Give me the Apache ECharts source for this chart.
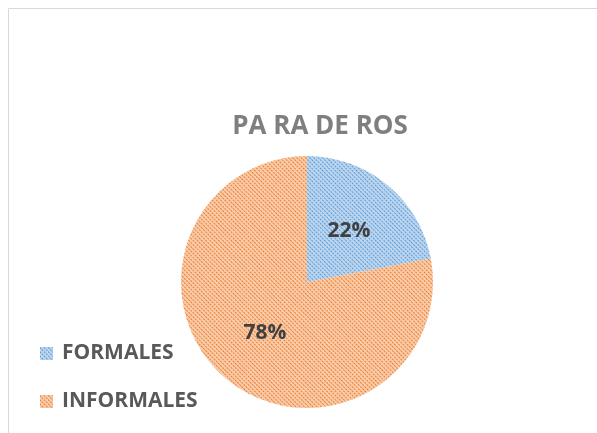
<!DOCTYPE html>
<html><head><meta charset="utf-8">
<script src="https://cdn.jsdelivr.net/npm/echarts@6/dist/echarts.min.js"></script>
<style>html,body{margin:0;padding:0;background:#fff}#c{width:597px;height:433px}</style>
</head><body><div id="c"></div>
<script>
const titleText = 'PA RA DE ROS';
const categories = ['FORMALES', 'INFORMALES'];
const values = [22, 78];
const baseColors = ['#bcd5ef', '#f8cba9'];
const patternColors = ['#5b9bd5', '#ed7d31'];

const chart = echarts.init(document.getElementById('c'));
chart.setOption({
  animation: false,
  graphic: [{
    type: 'rect', shape: {x: 8.5, y: 8.5, width: 620, height: 460},
    style: {fill: 'none', stroke: '#d9d9d9', lineWidth: 1}
  }],
  title: {
    text: titleText, left: 315, top: 109, textAlign: 'center',
    textStyle: {fontFamily: 'Open Sans', fontWeight: 'bold', fontSize: 26, color: '#7f7f7f'}
  },
  legend: {
    orient: 'vertical', left: 35, top: 338, itemWidth: 13, itemHeight: 13, itemGap: 27,
    icon: 'rect',
    textStyle: {fontFamily: 'Open Sans', fontWeight: 'bold', fontSize: 21, color: '#595959', padding: [0, 0, 0, 4]},
    data: categories
  },
  series: [{
    type: 'pie', center: [307, 282], radius: 126, startAngle: 90, clockwise: true,
    label: {
      position: 'inside', formatter: '{d}%',
      fontFamily: 'Open Sans', fontWeight: 'bold', fontSize: 21, color: '#404040'
    },
    labelLine: {show: false},
    emphasis: {disabled: true},
    data: categories.map((n, i) => ({
      name: n, value: values[i],
      itemStyle: {
        color: baseColors[i], borderWidth: 0,
        decal: {symbol: 'rect', symbolSize: 1, dashArrayX: [[2, 1]], dashArrayY: [1, 2], rotation: Math.PI / 4, color: patternColors[i]}
      }
    }))
  }]
});
</script></body></html>
